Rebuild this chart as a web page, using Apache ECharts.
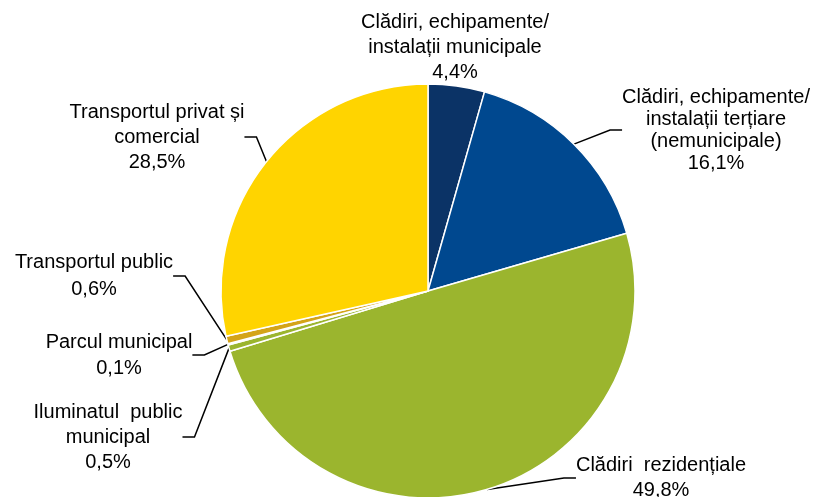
<!DOCTYPE html>
<html>
<head>
<meta charset="utf-8">
<script src="https://cdn.jsdelivr.net/npm/echarts@6/dist/echarts.min.js"></script>
<style>
  html, body { margin: 0; padding: 0; background: #fff; }
  #chart { width: 819px; height: 497px; }
</style>
</head>
<body>
<div id="chart"></div>
<script>
// sectors, clockwise from 12 o'clock
const categories = [
  'Clădiri, echipamente/\ninstalații municipale',
  'Clădiri, echipamente/\ninstalații terțiare\n(nemunicipale)',
  'Clădiri  rezidențiale',
  'Iluminatul  public\nmunicipal',
  'Parcul municipal',
  'Transportul public',
  'Transportul privat și\ncomercial'
];
const shares = [4.4, 16.1, 49.8, 0.5, 0.1, 0.6, 28.5];
const colors = ['#0b3366', '#00488f', '#9bb52e', '#9bb52e', '#9bb52e', '#d4a418', '#ffd400'];

// where each label block is centred (layout only)
const labelPos = [
  [455, 47], [716, 130], [661, 478], [108, 437], [119, 355], [94, 276], [157, 137]
];
const labelLineHeights = [25, 22, 25, 25, 26, 27, 25];

const chart = echarts.init(document.getElementById('chart'), null, { renderer: 'canvas' });

chart.setOption({
  animation: false,
  series: [{
    type: 'pie',
    center: [428, 291],
    radius: 207,
    startAngle: 90,
    clockwise: true,
    avoidLabelOverlap: false,
    itemStyle: { borderColor: '#fff', borderWidth: 1.5 },
    label: {
      show: true,
      position: 'outside',
      fontFamily: 'Liberation Sans, Arial, sans-serif',
      fontSize: 20,
      color: '#000',
      align: 'center',
      formatter: p => p.name + '\n' + p.value.toFixed(1).replace('.', ',') + '%'
    },
    labelLine: {
      show: true,
      length: 10,
      length2: 12,
      smooth: false,
      lineStyle: { color: '#000', width: 1.5 }
    },
    labelLayout: p => ({
      x: labelPos[p.dataIndex][0],
      y: labelPos[p.dataIndex][1],
      align: 'center',
      verticalAlign: 'middle'
    }),
    data: categories.map((name, i) => ({
      name: name,
      value: shares[i],
      itemStyle: { color: colors[i] },
      label: { lineHeight: labelLineHeights[i] },
      labelLine: { show: i !== 0 }
    }))
  }]
});
</script>
</body>
</html>
